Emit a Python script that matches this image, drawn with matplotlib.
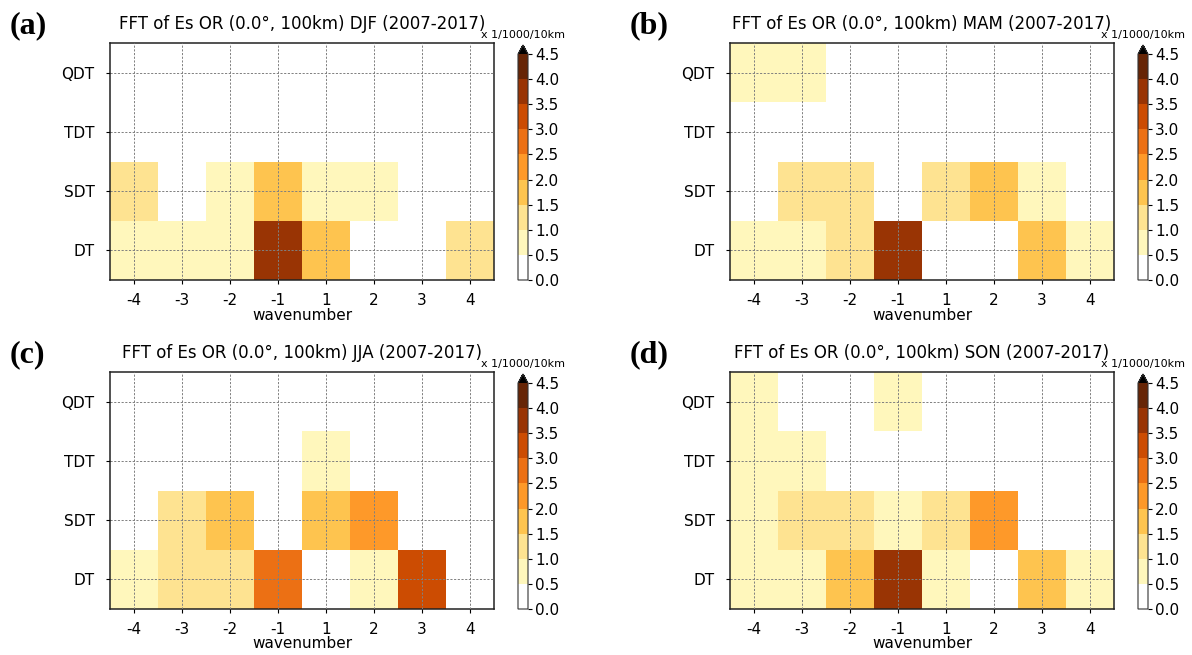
import numpy as np
import matplotlib
matplotlib.use("Agg")
import matplotlib.pyplot as plt
from matplotlib.colors import ListedColormap, BoundaryNorm

wavenumbers = ["-4", "-3", "-2", "-1", "1", "2", "3", "4"]
tides = ["DT", "SDT", "TDT", "QDT"]
seasons = ["DJF", "MAM", "JJA", "SON"]
panel_labels = ["(a)", "(b)", "(c)", "(d)"]
levels = [0.0, 0.5, 1.0, 1.5, 2.0, 2.5, 3.0, 3.5, 4.0, 4.5]

# rows: DT, SDT, TDT, QDT ; columns: wavenumbers
djf = [
    [0.7, 0.7, 0.7, 3.7, 1.7, 0.2, 0.2, 1.2],
    [1.2, 0.2, 0.7, 1.7, 0.7, 0.7, 0.2, 0.2],
    [0.2, 0.2, 0.2, 0.2, 0.2, 0.2, 0.2, 0.2],
    [0.2, 0.2, 0.2, 0.2, 0.2, 0.2, 0.2, 0.2],
]
mam = [
    [0.7, 0.7, 1.2, 3.7, 0.2, 0.2, 1.7, 0.7],
    [0.2, 1.2, 1.2, 0.2, 1.2, 1.7, 0.7, 0.2],
    [0.2, 0.2, 0.2, 0.2, 0.2, 0.2, 0.2, 0.2],
    [0.7, 0.7, 0.2, 0.2, 0.2, 0.2, 0.2, 0.2],
]
jja = [
    [0.7, 1.2, 1.2, 2.7, 0.2, 0.7, 3.2, 0.2],
    [0.2, 1.2, 1.7, 0.2, 1.7, 2.2, 0.2, 0.2],
    [0.2, 0.2, 0.2, 0.2, 0.7, 0.2, 0.2, 0.2],
    [0.2, 0.2, 0.2, 0.2, 0.2, 0.2, 0.2, 0.2],
]
son = [
    [0.7, 0.7, 1.7, 3.7, 0.7, 0.2, 1.7, 0.7],
    [0.7, 1.2, 1.2, 0.7, 1.2, 2.2, 0.2, 0.2],
    [0.7, 0.7, 0.2, 0.2, 0.2, 0.2, 0.2, 0.2],
    [0.7, 0.2, 0.2, 0.7, 0.2, 0.2, 0.2, 0.2],
]
data = [djf, mam, jja, son]

colors = ["#ffffff", "#fff7bc", "#fee391", "#fec44f", "#fe9929",
          "#ec7014", "#cc4c02", "#993404", "#662506"]
cmap = ListedColormap(colors)
cmap.set_over("#000000")
norm = BoundaryNorm(levels, cmap.N)

W, H = 1192, 655
fig = plt.figure(figsize=(W / 100, H / 100), dpi=100)

boxes = [(110, 43), (730, 43), (110, 372), (730, 372)]
aw, ah = 384, 237
cb_off, cb_w = 24, 10
fs = 11

for i, (left, top) in enumerate(boxes):
    ax = fig.add_axes([left / W, 1 - (top + ah) / H, aw / W, ah / H])
    z = np.array(data[i])
    ax.pcolormesh(np.arange(len(wavenumbers) + 1) - 0.5,
                  np.arange(len(tides) + 1) - 0.5,
                  z, cmap=cmap, norm=norm, shading="flat")
    ax.set_xticks(range(len(wavenumbers)))
    ax.set_xticklabels(wavenumbers, fontsize=fs)
    ax.set_yticks(range(len(tides)))
    ax.set_yticklabels(tides, fontsize=fs)
    ax.tick_params(axis="y", pad=8, length=3)
    ax.tick_params(axis="x", pad=6, length=3)
    ax.set_xlim(-0.5, len(wavenumbers) - 0.5)
    ax.set_ylim(-0.5, len(tides) - 0.5)
    ax.grid(True, linestyle=(0, (2.2, 1.6)), color="#808080", linewidth=0.7)
    ax.set_axisbelow(False)
    ax.set_xlabel("wavenumber", fontsize=fs, labelpad=0)
    for s in ax.spines.values():
        s.set_color("#222222")
        s.set_linewidth(1.1)
    ax.set_title("FFT of Es OR (0.0°, 100km) %s (2007-2017)" % seasons[i],
                 fontsize=12, pad=10)
    fig.text((left - 100) / W, 1 - (top - 17) / H, panel_labels[i],
             fontsize=23, fontweight="bold", family="Liberation Serif",
             ha="left", va="center")

    cleft = left + aw + cb_off
    cax = fig.add_axes([cleft / W, 1 - (top + ah) / H, cb_w / W, (ah - 2) / H])
    sm = matplotlib.cm.ScalarMappable(norm=norm, cmap=cmap)
    cb = fig.colorbar(sm, cax=cax, extend="max", ticks=levels,
                      extendfrac=0.04)
    cb.ax.tick_params(labelsize=fs, length=3, pad=2)
    cb.ax.set_yticklabels(["%.1f" % v for v in levels])
    cb.outline.set_edgecolor("#333333")
    fig.text((cleft + cb_w / 2) / W, 1 - (top - 8) / H, "x 1/1000/10km",
             fontsize=8, ha="center", va="center")

fig.savefig("out.png", dpi=100)
